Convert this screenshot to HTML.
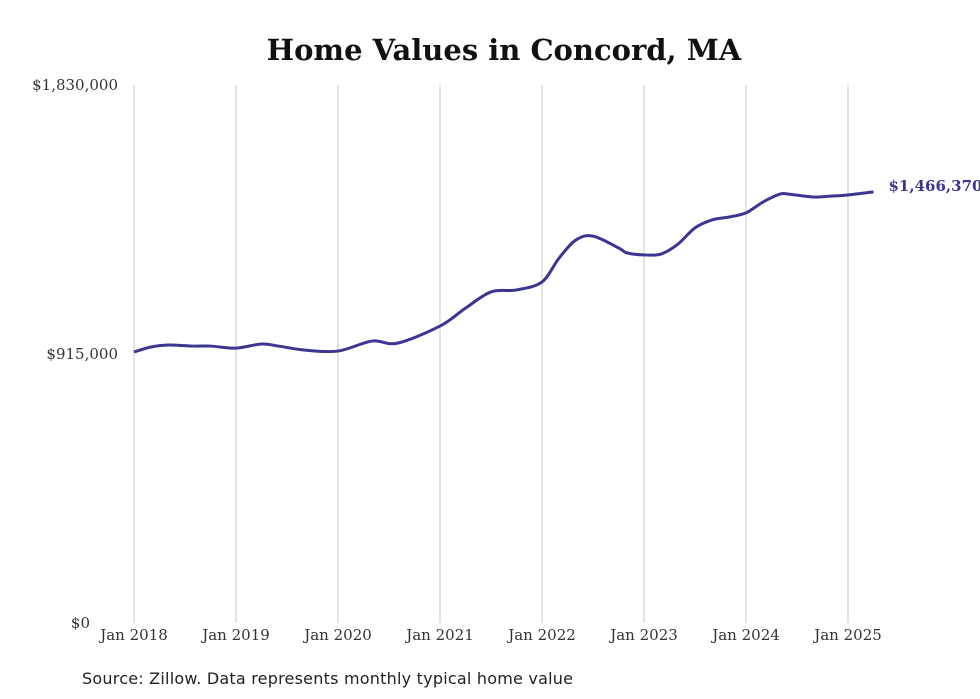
<!DOCTYPE html>
<html><head><meta charset="utf-8">
<style>
html,body{margin:0;padding:0;background:#fff;}
body{width:980px;height:699px;overflow:hidden;position:relative;}
svg{position:absolute;left:0;top:0;}
</style></head>
<body>
<svg width="980" height="699">
<text x="504" y="60" text-anchor="middle" font-family="'DejaVu Serif','Liberation Serif',serif" font-weight="bold" font-size="29" fill="#111">Home Values in Concord, MA</text>
<g id="grid"></g>
<g id="yticks"></g>
<g id="xticks"></g>
<path id="line" fill="none" stroke="#3d3592" stroke-width="3"></path>
<text id="endlabel" font-family="'DejaVu Serif','Liberation Serif',serif" font-weight="bold" font-size="15" fill="#3d3592"></text>
<text x="82" y="684" font-family="'DejaVu Sans','Liberation Sans',sans-serif" font-size="16" fill="#222" textLength="491">Source: Zillow. Data represents monthly typical home value</text>
</svg>
<script>
const monthOffsets=[0,2,4,7,9,12,15,17,20,24,28,31,36,39,42,45,48,50,52,54,57,58,60,62,64,66,68,70,72,74,76,77,80,82,84,87];
const values=[921800,938800,945600,942000,942000,935000,949000,942000,928600,925000,959000,952000,1010000,1071000,1126000,1133000,1160000,1241000,1303000,1316000,1276000,1259000,1252000,1255000,1289000,1344000,1371000,1381000,1395000,1432000,1459000,1459000,1449000,1452000,1456000,1466370];
const xTickLabels=["Jan 2018","Jan 2019","Jan 2020","Jan 2021","Jan 2022","Jan 2023","Jan 2024","Jan 2025"];
const yTickValues=[0,915000,1830000];
const yTickLabels=["$0","$915,000","$1,830,000"];
const endLabel="$1,466,370";

const NS="http://www.w3.org/2000/svg";
const x0=134,pxPerMonth=102/12,yBase=623,yTop=85,yMax=1830000;
const xs=m=>x0+m*pxPerMonth;
const ys=v=>yBase-(v/yMax)*(yBase-yTop);
const grid=document.getElementById('grid'),xt=document.getElementById('xticks'),yt=document.getElementById('yticks');
xTickLabels.forEach((l,i)=>{
  const x=xs(i*12);
  const ln=document.createElementNS(NS,'line');
  
  
  ln.setAttribute('x1',x);ln.setAttribute('x2',x);ln.setAttribute('y1',yTop);ln.setAttribute('y2',yBase);
  ln.setAttribute('stroke','#c8c8c8');ln.setAttribute('stroke-width','1');
  grid.appendChild(ln);
  const t=document.createElementNS(NS,'text');
  
  
  t.setAttribute('x',x);t.setAttribute('y',640);t.setAttribute('text-anchor','middle');
  t.setAttribute('font-family',"'DejaVu Serif','Liberation Serif',serif");t.setAttribute('font-size','15');t.setAttribute('fill','#333');
  t.textContent=l;xt.appendChild(t);
});
yTickValues.forEach((v,i)=>{
  const t=document.createElementNS(NS,'text');
  
  
  t.setAttribute('x',v===0?90:118);t.setAttribute('y',ys(v)+5);t.setAttribute('text-anchor','end');
  t.setAttribute('font-family',"'DejaVu Serif','Liberation Serif',serif");t.setAttribute('font-size','15');t.setAttribute('fill','#333');
  t.textContent=yTickLabels[i];yt.appendChild(t);
});
const pts=monthOffsets.map((m,i)=>[xs(m),ys(values[i])]);
let d="M"+pts[0][0]+","+pts[0][1];
for(let i=0;i<pts.length-1;i++){
  const p0=pts[Math.max(0,i-1)],p1=pts[i],p2=pts[i+1],p3=pts[Math.min(pts.length-1,i+2)];
  const c1=[p1[0]+(p2[0]-p0[0])/6,p1[1]+(p2[1]-p0[1])/6];
  const c2=[p2[0]-(p3[0]-p1[0])/6,p2[1]-(p3[1]-p1[1])/6];
  d+=` C${c1[0]},${c1[1]} ${c2[0]},${c2[1]} ${p2[0]},${p2[1]}`;
}
document.getElementById('line').setAttribute('d',d);
const last=pts[pts.length-1];
const el=document.getElementById('endlabel');
el.setAttribute('x',last[0]+15);el.setAttribute('y',last[1]-1);el.textContent=endLabel;
</script>
</body></html>
